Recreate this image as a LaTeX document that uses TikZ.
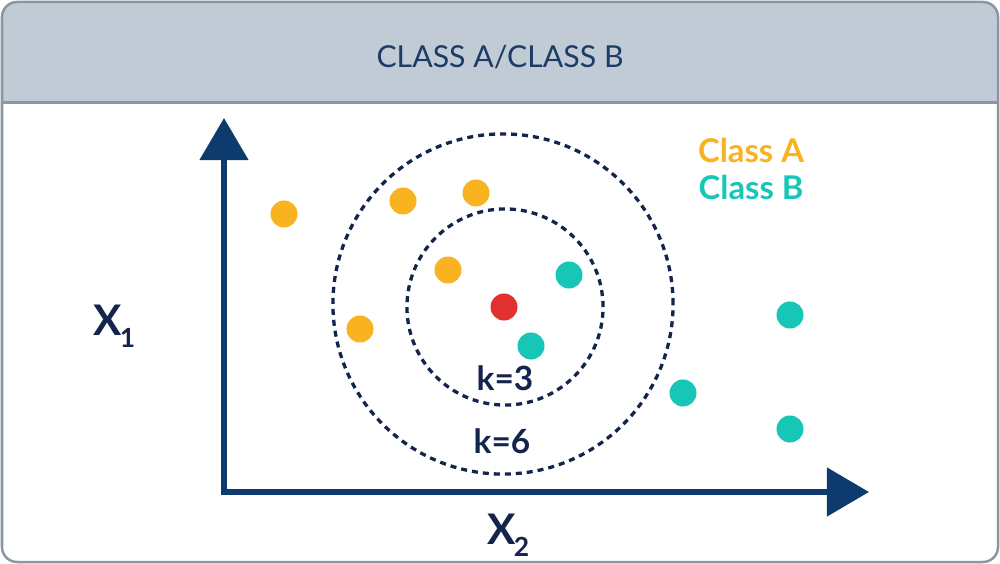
\documentclass[tikz,border=0pt]{standalone}
\usepackage{fontspec}
\setmainfont{Lato}
\usetikzlibrary{arrows.meta}
\definecolor{hdrfill}{HTML}{C1CBD5}
\definecolor{framec}{HTML}{8C96A2}
\definecolor{navy}{HTML}{0D3B6E}
\definecolor{ink}{HTML}{13244D}
\definecolor{hdrtext}{HTML}{1C3B66}
\definecolor{orangeA}{HTML}{F9B320}
\definecolor{tealB}{HTML}{18C6B8}
\definecolor{redpt}{HTML}{E0302F}
\newlength{\pxu}
\setlength{\pxu}{0.2845pt}
\newcommand{\axsub}[1]{X\kern-0.6pt\raisebox{-3.6pt}{\fontsize{7.5}{9}\selectfont #1}}
\tikzset{
  ptA/.style={circle,fill=orangeA,inner sep=0pt,minimum size=27\pxu},
  ptB/.style={circle,fill=tealB,inner sep=0pt,minimum size=27\pxu},
  ptR/.style={circle,fill=redpt,inner sep=0pt,minimum size=27\pxu},
  axis/.style={navy,line width=6\pxu,-{Triangle[length=12pt,width=13.6pt]}},
  ring/.style={ink,line width=3.3\pxu,dash pattern=on 6\pxu off 5\pxu},
  lbl/.style={inner sep=0pt,text=ink,font=\bfseries\fontsize{9.5}{11}\selectfont},
  axlbl/.style={inner sep=0pt,text=ink,font=\bfseries\fontsize{12}{14}\selectfont}
}
\begin{document}
\begin{tikzpicture}[x=0.01cm,y=-0.01cm]
\useasboundingbox (0,0) rectangle (1000,564);
% frame and header
\begin{scope}
\clip[rounded corners=15\pxu] (2,2) rectangle (998,562);
\fill[white] (0,0) rectangle (1000,564);
\fill[hdrfill] (0,0) rectangle (1000,103);
\draw[framec,line width=3\pxu] (0,103) -- (1000,103);
\end{scope}
\draw[framec,line width=2.5\pxu,rounded corners=15\pxu] (2,2) rectangle (998,562);
\node[inner sep=0pt,text=hdrtext,font=\fontsize{8.6}{10}\selectfont] (title) at (500,57) {CLASS A/CLASS B};
% axes
\coordinate (O) at (224,492);
\coordinate (ytip) at (224,118);
\coordinate (xtip) at (869,492);
\draw[axis] ([yshift=-3\pxu]O) -- (ytip);
\draw[axis] ([xshift=-3\pxu]O) -- (xtip);
\node[axlbl,anchor=base west] (x1) at (93,335) {\axsub{1}};
\node[axlbl,anchor=base west] (x2) at (487,544) {\axsub{2}};
% circles
\node[ring,circle,draw,minimum size=340\pxu,inner sep=0pt] (outer) at (503,304) {};
\node[ring,circle,draw,minimum size=196\pxu,inner sep=0pt] (inner) at (505,307) {};
\node[lbl] (k3) at (505,378) {k=3};
\node[lbl] (k6) at (502,441) {k=6};
% points
\node[ptA] (a1) at (284,214) {};
\node[ptA] (a2) at (403,201) {};
\node[ptA] (a3) at (476,193) {};
\node[ptA] (a4) at (448,270) {};
\node[ptA] (a5) at (360,329) {};
\node[ptB] (b1) at (569,275) {};
\node[ptB] (b2) at (531,346) {};
\node[ptB] (b3) at (683,393) {};
\node[ptB] (b4) at (790,315) {};
\node[ptB] (b5) at (790,429) {};
\node[ptR] (r) at (504,307) {};
% legend
\node[inner sep=0pt,text=orangeA,font=\bfseries\fontsize{9.3}{11}\selectfont] (legA) at (751,150) {Class A};
\node[inner sep=0pt,text=tealB,font=\bfseries\fontsize{9.3}{11}\selectfont] (legB) at (751,187) {Class B};
\end{tikzpicture}
\end{document}
